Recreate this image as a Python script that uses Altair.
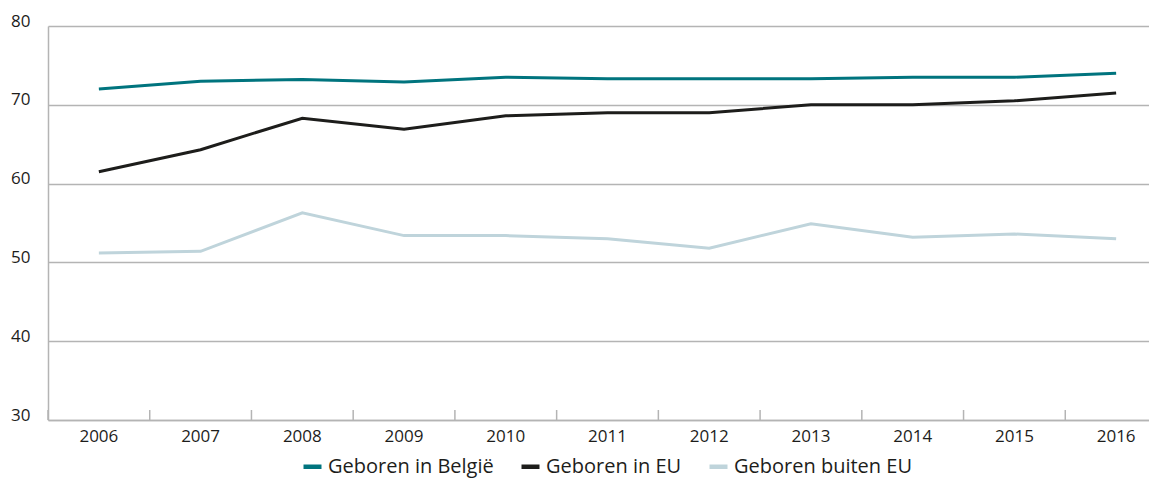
import altair as alt
import pandas as pd

years = ["2006", "2007", "2008", "2009", "2010", "2011", "2012", "2013", "2014", "2015", "2016"]
series_names = ["Geboren in België", "Geboren in EU", "Geboren buiten EU"]
belgie = [72.0, 73.0, 73.2, 72.9, 73.5, 73.3, 73.3, 73.3, 73.5, 73.5, 74.0]
eu = [61.5, 64.3, 68.3, 66.9, 68.6, 69.0, 69.0, 70.0, 70.0, 70.5, 71.5]
buiten = [51.2, 51.4, 56.3, 53.4, 53.4, 53.0, 51.8, 54.9, 53.2, 53.6, 53.0]
colors = ["#00747e", "#1d1d1b", "#bfd4db"]
y_ticks = [30, 40, 50, 60, 70, 80]

rows = []
for name, vals in zip(series_names, [belgie, eu, buiten]):
    for yr, v in zip(years, vals):
        rows.append({"year": yr, "value": v, "series": name})
df = pd.DataFrame(rows)
df_years = pd.DataFrame({"year": years})

FONT = "Open Sans"
GRID = "#b4b4b4"

x_scale = alt.Scale(domain=years, range=[0, 1119], paddingInner=0, paddingOuter=0, round=False)
x_axis = alt.Axis(labelAngle=0, labelAlign="center", ticks=False, domainColor=GRID,
                  domainWidth=1.5, labelFont=FONT, labelFontSize=17, labelColor="#1d1d1b",
                  labelPadding=8, grid=False, title=None)

lines = alt.Chart(df).mark_line(strokeWidth=3).encode(
    x=alt.X("year:O", scale=x_scale, title=None, axis=x_axis),
    y=alt.Y("value:Q", scale=alt.Scale(domain=[30, 80], nice=False, zero=False), title=None,
            axis=alt.Axis(values=y_ticks, ticks=False, domainColor=GRID, domainWidth=1.5,
                          gridColor=GRID, gridWidth=1.5, labelFont=FONT, labelFontSize=17,
                          labelColor="#1d1d1b", labelPadding=18, labelBaseline="alphabetic")),
    color=alt.Color("series:N", scale=alt.Scale(domain=series_names, range=colors), sort=series_names,
                    legend=alt.Legend(title=None, orient="none", legendX=253, legendY=429,
                                      direction="horizontal", symbolType="stroke",
                                      symbolStrokeWidth=4.5, symbolSize=324, labelFont=FONT,
                                      labelFontSize=20, labelColor="#1d1d1b", labelOffset=4,
                                      labelLimit=0, columnPadding=18, padding=0)),
    order=alt.Order("year:O"),
)

ticks = alt.Chart(df_years).mark_rule(color=GRID, strokeWidth=1.5).encode(
    x=alt.X("year:O", scale=x_scale, bandPosition=0, title=None, axis=x_axis),
    y=alt.value(384),
    y2=alt.value(394),
)

chart = alt.layer(lines, ticks).properties(
    width=1101, height=394,
    autosize=alt.AutoSizeParams(type="none"),
    padding={"left": 40, "top": 18, "right": 0, "bottom": 61},
).configure_view(stroke=None)

chart.save("out.html", embed_options={"renderer": "svg", "actions": False})
